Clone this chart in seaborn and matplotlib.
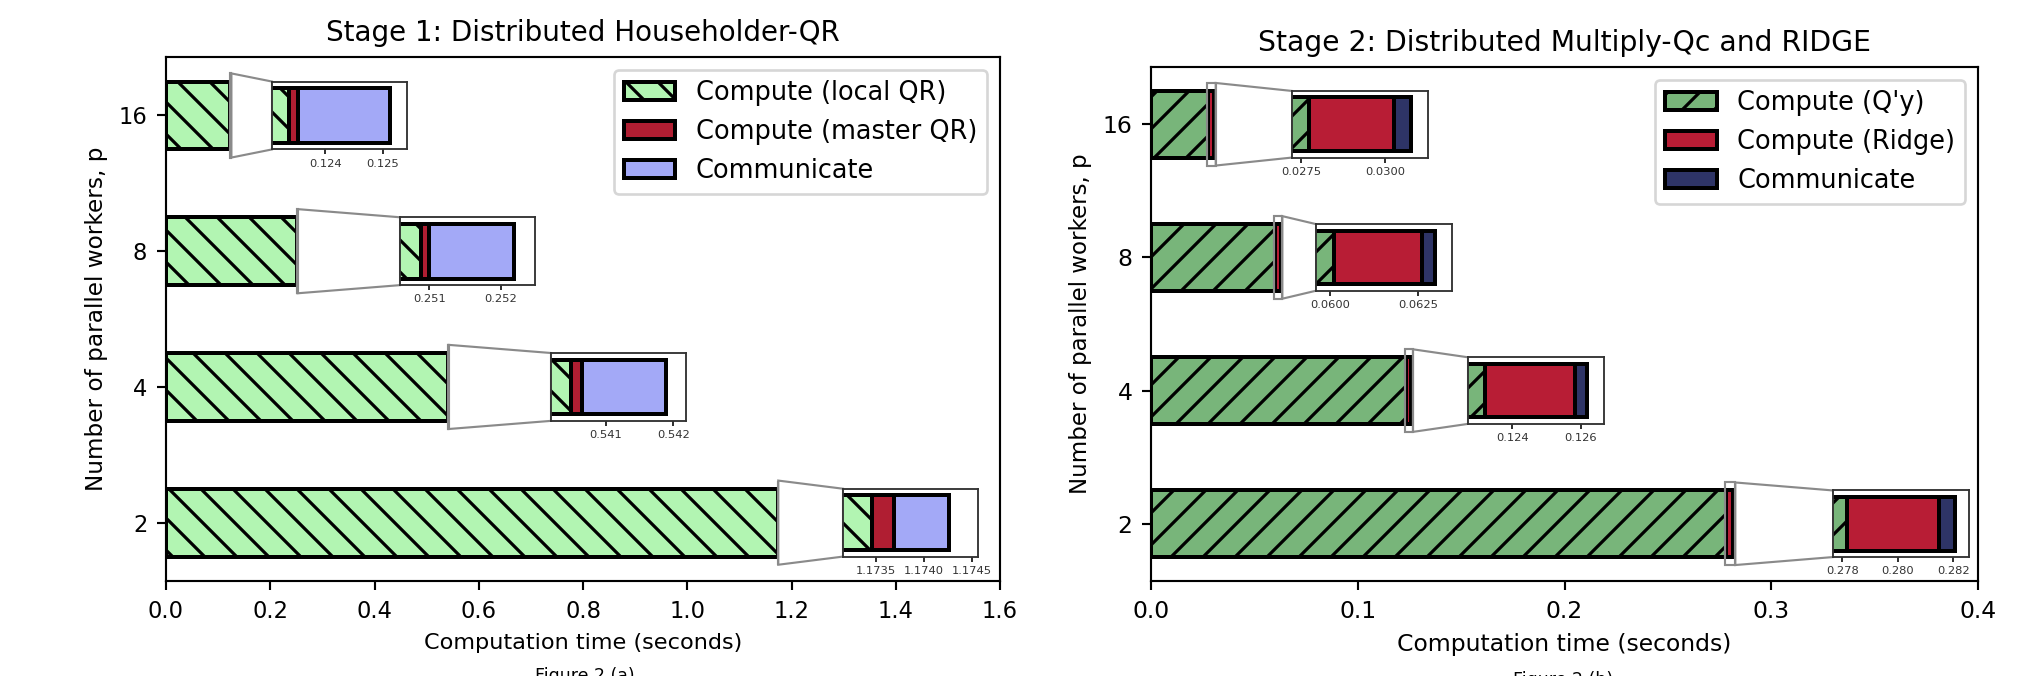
import numpy as np
import pandas as pd
import matplotlib
matplotlib.use("Agg")
import matplotlib.pyplot as plt
import seaborn as sns
from matplotlib.patches import Patch, Polygon, Rectangle
from matplotlib.ticker import FixedLocator, FormatStrFormatter, MultipleLocator

# ---------------- data ----------------
workers = ["16", "8", "4", "2"]

# Stage 1: Distributed Householder-QR (seconds)
local_qr = [0.12338, 0.25089, 0.54048, 1.17346]
master_qr = [0.00015, 0.00011, 0.00016, 0.00023]
comm_qr = [0.00159, 0.00118, 0.00125, 0.00057]

# Stage 2: Distributed Multiply-Qc and RIDGE (seconds)
compute_qy = [0.02774, 0.06009, 0.12322, 0.27817]
compute_ridge = [0.00250, 0.00252, 0.00261, 0.00331]
comm_ridge = [0.00052, 0.00037, 0.00034, 0.00059]

stage1_labels = ["Compute (local QR)", "Compute (master QR)", "Communicate"]
stage2_labels = ["Compute (Q'y)", "Compute (Ridge)", "Communicate"]

stage1_inset_ticks = [[0.124, 0.125], [0.251, 0.252], [0.541, 0.542],
                      [1.1735, 1.1740, 1.1745]]
stage1_inset_fmt = ["%.3f", "%.3f", "%.3f", "%.4f"]
stage2_inset_ticks = [[0.0275, 0.0300], [0.0600, 0.0625], [0.124, 0.126],
                      [0.278, 0.280, 0.282]]
stage2_inset_fmt = ["%.4f", "%.4f", "%.3f", "%.3f"]

# ---------------- layout / style ----------------
DPI = 192
plt.rcParams["hatch.linewidth"] = 1.2
plt.rcParams["font.family"] = ["DejaVu Sans"]

fig = plt.figure(figsize=(2017 / DPI, 676 / DPI), dpi=DPI)

stage1_colors = ["#b2f5b2", "#b01e32", "#a3a9f7"]
stage2_colors = ["#78b57a", "#b81d35", "#2e3466"]
EDGE_LW = 1.5


def draw_stack(ax, values, cats, colors, hatch):
    """Overlapping cumulative bars -> stacked appearance."""
    cum = np.cumsum(np.array(values, dtype=float), axis=0)
    hatches = [hatch, None, None]
    for k in [2, 1, 0]:
        df = pd.DataFrame({"p": cats, "t": cum[k]})
        kw = dict(edgecolor="black", linewidth=EDGE_LW)
        if hatches[k]:
            kw["hatch"] = hatches[k]
        sns.barplot(data=df, x="t", y="p", order=cats, orient="h",
                    color=colors[k], saturation=1, width=0.5, ax=ax, **kw)
    return cum


def stage(rect, values, colors, hatch, xlim, xstep, title, labels, fs,
          inset_x, inset_w, pad, ticks, fmts):
    ax = fig.add_axes(rect)
    cum = draw_stack(ax, values, workers, colors, hatch)
    ax.set_xlim(*xlim)
    ax.xaxis.set_major_locator(MultipleLocator(xstep))
    ax.set_ylim(3.43, -0.43)
    ax.set_title(title, fontsize=fs["title"])
    ax.set_xlabel("Computation time (seconds)", fontsize=fs["xlabel"])
    ax.set_ylabel("Number of parallel workers, p", fontsize=fs["ylabel"])
    ax.tick_params(labelsize=fs["tick"])

    handles = [Patch(facecolor=colors[0], edgecolor="black", hatch=hatch,
                     linewidth=EDGE_LW),
               Patch(facecolor=colors[1], edgecolor="black", linewidth=EDGE_LW),
               Patch(facecolor=colors[2], edgecolor="black", linewidth=EDGE_LW)]
    ax.legend(handles, labels, loc="upper right", fontsize=fs["legend"])

    to_fig = fig.transFigure.inverted()
    for i in range(len(workers)):
        yc = i
        lo = cum[0][i] - pad
        hi = cum[2][i] + pad
        x0 = inset_x[i]
        pts = ax.transData.transform([[x0, yc + 0.25], [x0 + inset_w, yc - 0.25]])
        (fx0, fy0), (fx1, fy1) = to_fig.transform(pts)
        iax = fig.add_axes([min(fx0, fx1), min(fy0, fy1),
                            abs(fx1 - fx0), abs(fy1 - fy0)])
        draw_stack(iax, [[v[i]] for v in values], [workers[i]], colors, hatch)
        iax.set_xlim(lo, hi)
        iax.set_ylim(0.31, -0.31)
        iax.set_yticks([])
        iax.set_xlabel("")
        iax.set_ylabel("")
        iax.xaxis.set_major_locator(FixedLocator(ticks[i]))
        iax.xaxis.set_major_formatter(FormatStrFormatter(fmts[i]))
        iax.tick_params(axis="x", labelsize=4.3, length=2, width=0.6, pad=1.5,
                        labelcolor="#333333")
        for s in iax.spines.values():
            s.set_linewidth(0.7)
            s.set_color("#333333")

        ax.add_patch(Polygon([(hi, yc - 0.31), (x0, yc - 0.25),
                              (x0, yc + 0.25), (hi, yc + 0.31)],
                             closed=True, facecolor="white", edgecolor="#8a8a8a",
                             linewidth=0.8, zorder=4))
        ax.add_patch(Rectangle((lo, yc - 0.31), hi - lo, 0.62, fill=False,
                               edgecolor="#8a8a8a", linewidth=0.8, zorder=5))
    return ax


stage([0.0823, 0.1405, 0.4135, 0.775],
      [local_qr, master_qr, comm_qr], stage1_colors, "\\\\",
      (0.0, 1.6), 0.2, "Stage 1: Distributed Householder-QR", stage1_labels,
      dict(title=10.4, xlabel=8.4, ylabel=8.7, tick=8.5, legend=9.6),
      [0.2034, 0.449, 0.7386, 1.2988], 0.259, 0.0003,
      stage1_inset_ticks, stage1_inset_fmt)

stage([0.5707, 0.1405, 0.41, 0.7604],
      [compute_qy, compute_ridge, comm_ridge], stage2_colors, "//",
      (0.0, 0.4), 0.1, "Stage 2: Distributed Multiply-Qc and RIDGE", stage2_labels,
      dict(title=10.6, xlabel=8.8, ylabel=8.6, tick=8.8, legend=9.6),
      [0.0682, 0.0798, 0.1533, 0.3299], 0.0658, 0.0005,
      stage2_inset_ticks, stage2_inset_fmt)

fig.text(0.29, 0.014, "Figure 2 (a)", ha="center", va="top", fontsize=6.5)
fig.text(0.775, 0.008, "Figure 2 (b)", ha="center", va="top", fontsize=6.5)

fig.savefig("out.png", dpi=DPI)
